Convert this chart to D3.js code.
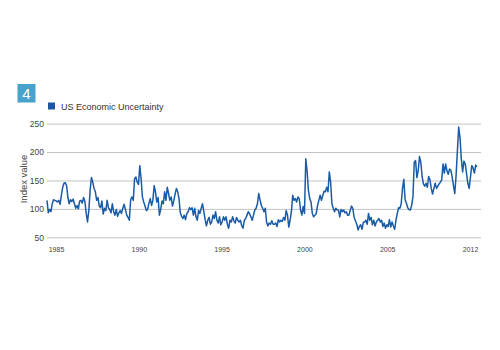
<html>
<head>
<meta charset="UTF-8">
<script src="https://cdn.jsdelivr.net/npm/d3@7"></script>
<style>
  body { margin: 0; background: #ffffff; }
  text { font-family: "Liberation Sans", Arial, sans-serif; }
</style>
</head>
<body>
<div id="container"></div>
<script>
// monthly index, Jan 1985 - Jun 2012
const startYear = 1985;
const uncertainty = [
  115, 93, 99, 95, 109, 116, 115, 114, 112, 115, 108, 124,   // 1985
  138, 145, 146, 141, 120, 109, 116, 113, 117, 109, 101, 106, // 1986
  100, 114, 115, 110, 120, 113, 92, 77, 97, 133, 155, 147,    // 1987
  136, 130, 115, 120, 105, 102, 114, 91, 101, 97, 115, 102,   // 1988
  99, 93, 109, 95, 89, 99, 87, 93, 97, 92, 101, 108,          // 1989
  99, 89, 85, 80, 116, 121, 115, 153, 156, 147, 143, 176,     // 1990
  153, 121, 112, 105, 97, 99, 110, 118, 106, 115, 141, 130,   // 1991
  112, 120, 89, 99, 114, 109, 130, 115, 138, 127, 115, 121,   // 1992
  105, 114, 126, 136, 130, 118, 93, 87, 83, 89, 81, 92,       // 1993
  95, 102, 99, 102, 89, 101, 86, 80, 97, 92, 101, 109,        // 1994
  95, 81, 70, 80, 85, 73, 77, 89, 83, 95, 80, 75,             // 1995
  86, 72, 77, 86, 80, 86, 73, 66, 80, 77, 86, 79,             // 1996
  75, 85, 80, 77, 80, 70, 66, 80, 83, 89, 95, 91,             // 1997
  86, 80, 89, 98, 101, 109, 127, 116, 106, 101, 95, 101,      // 1998
  77, 70, 75, 73, 79, 73, 73, 75, 69, 81, 77, 80,             // 1999
  78, 85, 80, 97, 89, 68, 80, 95, 124, 115, 118, 112,         // 2000
  121, 118, 98, 89, 104, 92, 188, 167, 133, 118, 112, 92,     // 2001
  86, 89, 92, 106, 115, 124, 115, 124, 131, 130, 138, 130,    // 2002
  165, 147, 109, 101, 95, 101, 98, 98, 86, 99, 95, 98,        // 2003
  93, 95, 89, 89, 97, 105, 101, 85, 79, 73, 63, 69,           // 2004
  72, 64, 76, 77, 80, 73, 92, 80, 85, 72, 80, 70,             // 2005
  77, 80, 83, 77, 80, 69, 75, 66, 72, 69, 81, 68,             // 2006
  77, 70, 64, 80, 92, 102, 101, 109, 136, 152, 116, 110,      // 2007
  102, 99, 98, 106, 121, 182, 185, 155, 167, 192, 182, 157,   // 2008
  144, 140, 145, 138, 157, 151, 136, 126, 136, 145, 136, 140, // 2009
  144, 147, 151, 179, 163, 179, 167, 161, 170, 168, 156, 141, // 2010
  127, 159, 202, 244, 225, 188, 165, 184, 179, 162, 145, 136, // 2011
  156, 176, 172, 163, 177, 174                                // 2012
];
const yTicks = [50, 100, 150, 200, 250];
const xLabels = ["1985", "1990", "1995", "2000", "2005", "2012"];
const seriesName = "US Economic Uncertainty";
const badgeText = "4";

const width = 500, height = 350;
const svg = d3.select("#container").append("svg")
  .attr("width", width).attr("height", height);

const x = d3.scaleLinear()
  .domain([0, uncertainty.length - 1])
  .range([47, 477]);
const y = d3.scaleLinear()
  .domain([50, 250])
  .range([237.3, 123.6]);
// category style labels, evenly spread
const xl = d3.scalePoint()
  .domain(xLabels)
  .range([56, 470]);

// gridlines + y labels
const gy = svg.append("g")
  .attr("transform", "translate(47,0)")
  .call(d3.axisLeft(y).tickValues(yTicks).tickSize(-434).tickPadding(3));
gy.select(".domain").remove();
gy.selectAll(".tick line").attr("stroke", "#c4c4c4").attr("stroke-width", 1);
gy.selectAll(".tick text")
  .attr("fill", "#444")
  .style("font-size", "8.5px")
  .style("font-family", "Liberation Sans, Arial, sans-serif");

// x labels
const gx = svg.append("g")
  .attr("transform", "translate(0,247)")
  .call(d3.axisBottom(xl).tickSize(0).tickPadding(0));
gx.select(".domain").remove();
gx.selectAll(".tick text")
  .attr("fill", "#444")
  .style("font-size", "7px")
  .style("font-family", "Liberation Sans, Arial, sans-serif");

// y title
svg.append("text")
  .attr("transform", "translate(27,179) rotate(-90)")
  .attr("text-anchor", "middle")
  .attr("fill", "#444")
  .style("font-size", "9.5px")
  .text("Index value");

// line
const line = d3.line()
  .x((d, i) => x(i))
  .y(d => y(d));
svg.append("path")
  .attr("d", line(uncertainty))
  .attr("fill", "none")
  .attr("stroke", "#1a5ba8")
  .attr("stroke-width", 1.5)
  .attr("stroke-linejoin", "round");

// legend
svg.append("rect")
  .attr("x", 48).attr("y", 102.5)
  .attr("width", 7).attr("height", 7)
  .attr("fill", "#1a55a6");
svg.append("text")
  .attr("x", 61).attr("y", 110)
  .attr("fill", "#333")
  .style("font-size", "9px")
  .text(seriesName);

// badge
svg.append("rect")
  .attr("x", 17.5).attr("y", 84)
  .attr("width", 18).attr("height", 18.5)
  .attr("fill", "#47a2cc");
svg.append("text")
  .attr("x", 26.5).attr("y", 98.5)
  .attr("text-anchor", "middle")
  .attr("fill", "#ffffff")
  .style("font-size", "15px")
  .text(badgeText);
</script>
</body>
</html>
